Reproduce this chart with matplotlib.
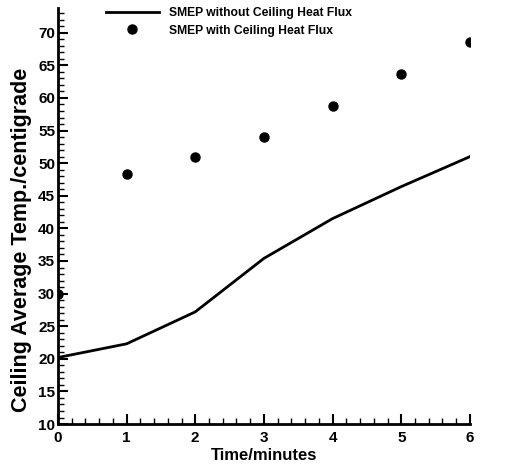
import matplotlib
matplotlib.use("Agg")
import matplotlib.pyplot as plt
from matplotlib.ticker import MultipleLocator

plt.rcParams["font.family"] = ["Liberation Sans", "DejaVu Sans"]

# data
time_min = [0, 1, 2, 3, 4, 5, 6]
temp_no_flux = [20.2, 22.3, 27.2, 35.4, 41.5, 46.4, 51.0]
temp_flux = [30.0, 48.4, 51.0, 54.0, 58.7, 63.6, 68.5]

fig = plt.figure(figsize=(5.08, 4.66), dpi=100)
ax = fig.add_axes([0.114, 0.09, 0.811, 0.893])

ax.plot(time_min, temp_no_flux, "-", color="black", linewidth=2.0,
        label="SMEP without Ceiling Heat Flux")
ax.plot(time_min, temp_flux, "o", color="black", markersize=6.5,
        label="SMEP with Ceiling Heat Flux")

ax.set_xlim(0, 6)
ax.set_ylim(10, 73.8)
ax.xaxis.set_major_locator(MultipleLocator(1))
ax.xaxis.set_minor_locator(MultipleLocator(0.2))
ax.yaxis.set_major_locator(MultipleLocator(5))
ax.yaxis.set_minor_locator(MultipleLocator(1))
ax.tick_params(which="major", direction="in", length=7, width=1.5,
               labelsize=11)
ax.tick_params(axis="x", which="major", pad=5)
ax.tick_params(axis="y", which="major", pad=2)
ax.tick_params(which="minor", direction="in", length=4, width=1.0)
for lab in ax.get_xticklabels() + ax.get_yticklabels():
    lab.set_fontweight("bold")

for side in ("top", "right"):
    ax.spines[side].set_visible(False)
for side in ("left", "bottom"):
    ax.spines[side].set_linewidth(2.0)

ax.set_xlabel("Time/minutes", fontsize=12, fontweight="bold", labelpad=2)
ax.set_ylabel("Ceiling Average Temp./centigrade", fontsize=15.5,
              fontweight="bold")
ax.yaxis.set_label_coords(-0.064, 0.443)

ax.legend(loc="upper left", bbox_to_anchor=(0.09, 1.028), frameon=False,
          handlelength=4.4, handletextpad=0.8, labelspacing=0.45,
          prop={"weight": "bold", "size": 8.7})

fig.savefig("out.png", dpi=100)
